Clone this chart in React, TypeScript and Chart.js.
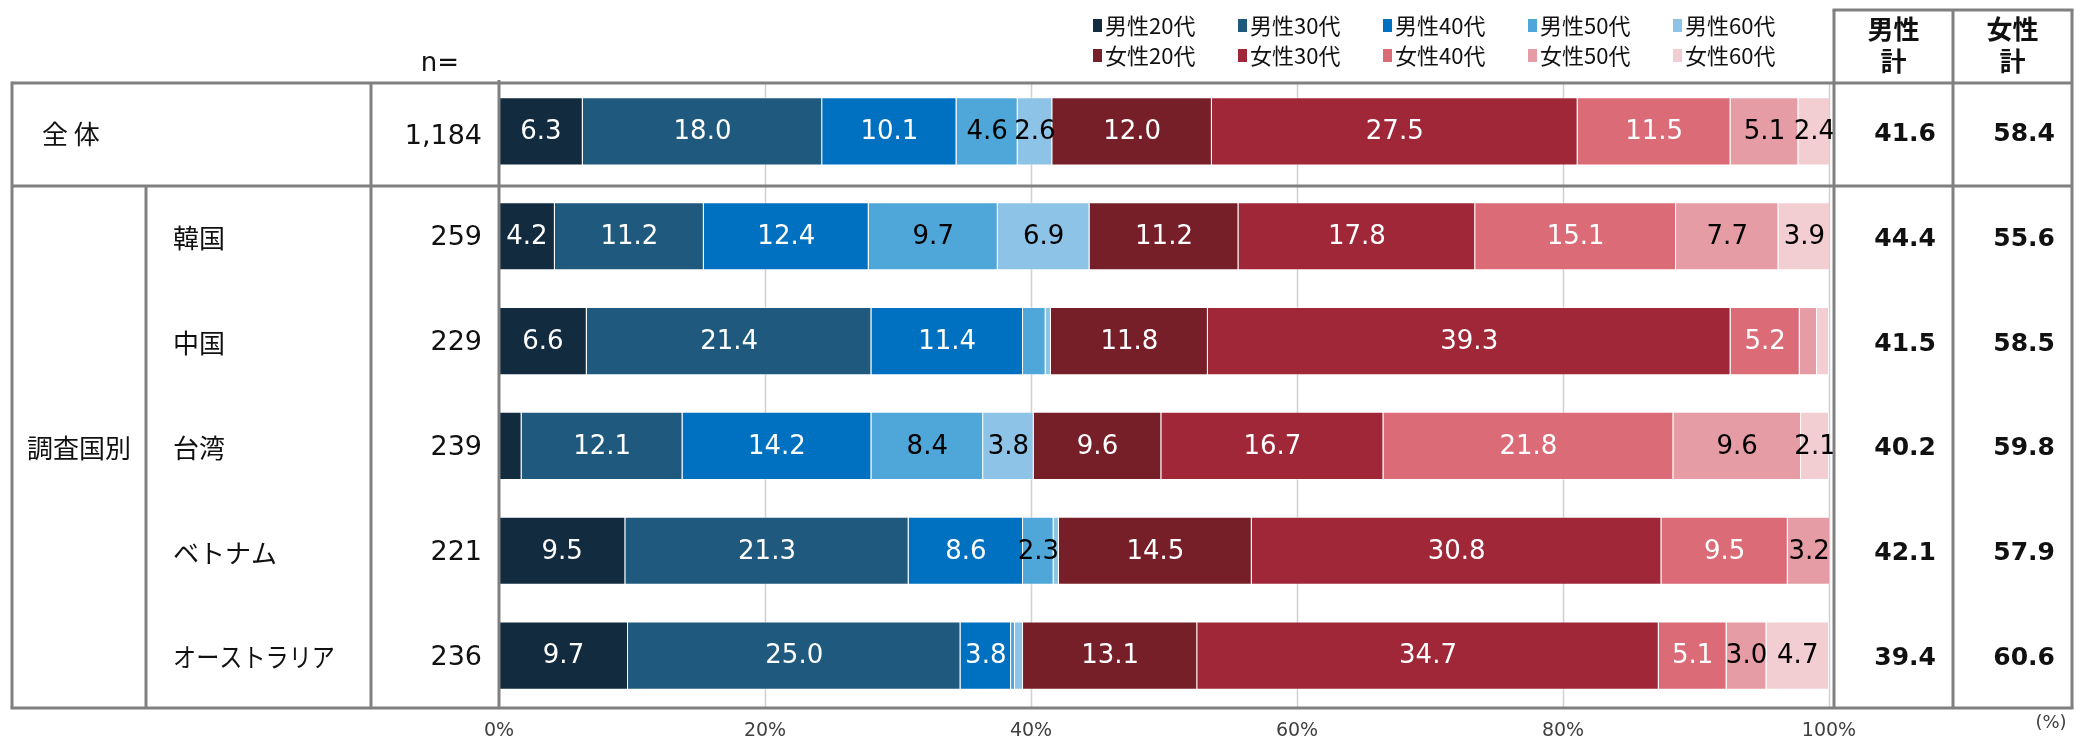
import { useEffect, useRef } from "react";
import { Chart, registerables } from "chart.js";

Chart.register(...registerables);

// ---------- data ----------
const rowLabels = ["全 体", "韓国", "中国", "台湾", "ベトナム", "オーストラリア"];
const sampleSizes = ["1,184", "259", "229", "239", "221", "236"];
const groupLabel = "調査国別";
const seriesNames = [
  "男性20代", "男性30代", "男性40代", "男性50代", "男性60代",
  "女性20代", "女性30代", "女性40代", "女性50代", "女性60代",
];
const male20 = [6.3, 4.2, 6.6, 1.7, 9.5, 9.7];
const male30 = [18.0, 11.2, 21.4, 12.1, 21.3, 25.0];
const male40 = [10.1, 12.4, 11.4, 14.2, 8.6, 3.8];
const male50 = [4.6, 9.7, 1.7, 8.4, 2.3, 0.3];
const male60 = [2.6, 6.9, 0.4, 3.8, 0.4, 0.6];
const female20 = [12.0, 11.2, 11.8, 9.6, 14.5, 13.1];
const female30 = [27.5, 17.8, 39.3, 16.7, 30.8, 34.7];
const female40 = [11.5, 15.1, 5.2, 21.8, 9.5, 5.1];
const female50 = [5.1, 7.7, 1.3, 9.6, 3.2, 3.0];
const female60 = [2.4, 3.9, 0.9, 2.1, 0.0, 4.7];
const maleTotals = ["41.6", "44.4", "41.5", "40.2", "42.1", "39.4"];
const femaleTotals = ["58.4", "55.6", "58.5", "59.8", "57.9", "60.6"];
const xTickValues = [0, 20, 40, 60, 80, 100];
const totalHeaders = [["男性", "計"], ["女性", "計"]];

const seriesValues = [male20, male30, male40, male50, male60, female20, female30, female40, female50, female60];
const seriesColors = [
  "#122B3F", "#1F5A7E", "#0070C0", "#4FA6D9", "#8DC3E6",
  "#771F29", "#A02737", "#DA6B77", "#E69CA5", "#F2CDD2",
];
const labelColors = ["#fff", "#fff", "#fff", "#000", "#000", "#fff", "#fff", "#fff", "#000", "#000"];

const FONT_NUM = "'DejaVu Sans', 'Noto Sans', sans-serif";
const FONT_JP = "'Noto Sans CJK JP', 'Noto Sans', sans-serif";
const LINE = "#808080";

const tablePlugin = {
  id: "tableDecor",
  beforeDraw(chart: any) {
    const { ctx, width, height } = chart;
    ctx.save();
    ctx.fillStyle = "#fff";
    ctx.fillRect(0, 0, width, height);
    const xs = chart.scales.x;
    ctx.strokeStyle = "#D0D0D0";
    ctx.lineWidth = 1.5;
    xTickValues.forEach((v) => {
      if (v === 0) return;
      const px = Math.round(xs.getPixelForValue(v)) + 0.5;
      ctx.beginPath();
      ctx.moveTo(px, 83);
      ctx.lineTo(px, chart.chartArea.bottom);
      ctx.stroke();
    });
    ctx.restore();
  },
  afterDatasetsDraw(chart: any) {
    const { ctx } = chart;
    ctx.save();
    ctx.textAlign = "center";
    ctx.textBaseline = "middle";
    ctx.font = `26px ${FONT_NUM}`;
    chart.data.datasets.forEach((ds: any, di: number) => {
      const meta = chart.getDatasetMeta(di);
      meta.data.forEach((el: any, i: number) => {
        const v = ds.data[i];
        if (v < 2) return;
        const p = el.getProps(["x", "base", "y"], true);
        ctx.fillStyle = labelColors[di];
        ctx.fillText(v.toFixed(1), (p.x + p.base) / 2, p.y + 1);
      });
    });
    ctx.restore();
  },
  afterDraw(chart: any) {
    const { ctx } = chart;
    const ys = chart.scales.y;
    const xs = chart.scales.x;
    const left = 12, c1 = 146, c2 = 371, axisX = Math.round(xs.getPixelForValue(0));
    const r0 = 1834, r1 = 1953, r2 = 2072;
    const top = 83, mid = 186, bottom = Math.round(chart.chartArea.bottom);
    ctx.save();
    ctx.strokeStyle = LINE;
    ctx.lineWidth = 3;
    const line = (x1: number, y1: number, x2: number, y2: number) => {
      ctx.beginPath();
      ctx.moveTo(x1, y1);
      ctx.lineTo(x2, y2);
      ctx.stroke();
    };
    line(left, top, r2, top);
    line(left, mid, r2, mid);
    line(left - 1.5, bottom, r2 + 1.5, bottom);
    line(left, top - 1.5, left, bottom);
    line(c1, mid, c1, bottom);
    line(c2, top, c2, bottom);
    line(axisX, 80, axisX, bottom);
    line(r0 - 1.5, 10, r2 + 1.5, 10);
    line(r0, 10, r0, bottom);
    line(r1, 10, r1, bottom);
    line(r2, 10, r2, bottom);

    ctx.fillStyle = "#111";
    ctx.textBaseline = "middle";
    rowLabels.forEach((lab, i) => {
      const y = ys.getPixelForValue(i);
      ctx.font = `26px ${FONT_JP}`;
      ctx.textAlign = "left";
      if (i === 0) ctx.fillText(lab, 42, (top + mid) / 2);
      else ctx.fillText(lab, 173, y + 2, 162);
      ctx.font = `27px ${FONT_NUM}`;
      ctx.textAlign = "right";
      ctx.fillText(sampleSizes[i], 482, i === 0 ? (top + mid) / 2 + 2 : y + 2);
      ctx.font = `bold 25px ${FONT_NUM}`;
      ctx.fillText(maleTotals[i], r1 - 17, y + 3);
      ctx.fillText(femaleTotals[i], r2 - 17, y + 3);
    });
    ctx.font = `26px ${FONT_JP}`;
    ctx.textAlign = "left";
    ctx.fillText(groupLabel, 27, ys.getPixelForValue(3) + 2);
    ctx.font = `26px ${FONT_NUM}`;
    ctx.textAlign = "center";
    ctx.fillText("n=", 440, 64);

    ctx.font = `bold 26px ${FONT_JP}`;
    totalHeaders.forEach((h, i) => {
      const cx = i === 0 ? (r0 + r1) / 2 : (r1 + r2) / 2;
      ctx.fillText(h[0], cx, 29);
      ctx.fillText(h[1], cx, 61);
    });

    ctx.font = `22px ${FONT_JP}`;
    ctx.textAlign = "left";
    seriesNames.forEach((name, i) => {
      const col = i % 5, row = Math.floor(i / 5);
      const x = 1093 + col * 145;
      const y = 25 + row * 30;
      ctx.fillStyle = seriesColors[i];
      ctx.fillRect(x, y - 6, 9, 13);
      ctx.fillStyle = "#111";
      ctx.fillText(name, x + 12, y + 1);
    });

    ctx.font = `18px ${FONT_NUM}`;
    ctx.fillStyle = "#404040";
    ctx.textAlign = "center";
    ctx.fillText("(%)", 2051, 723);
    ctx.restore();
  },
};

export default function App() {
  const ref = useRef<HTMLCanvasElement | null>(null);
  useEffect(() => {
    document.body.style.margin = "0";
    const canvas = ref.current;
    if (!canvas) return;
    const chart = new Chart(canvas, {
      type: "bar",
      data: {
        labels: rowLabels,
        datasets: seriesNames.map((name, i) => ({
          label: name,
          data: seriesValues[i],
          backgroundColor: seriesColors[i],
          borderColor: "rgba(255,255,255,0.4)",
          borderWidth: 1,
          barPercentage: 0.65,
          categoryPercentage: 1,
        })),
      },
      options: {
        indexAxis: "y",
        animation: false,
        responsive: false,
        devicePixelRatio: 1,
        layout: { padding: { left: 499, right: 263, top: 79, bottom: 0 } },
        plugins: { legend: { display: false }, tooltip: { enabled: false } },
        scales: {
          x: {
            stacked: true,
            min: 0,
            max: 100,
            grid: { display: false, drawTicks: false },
            border: { display: false },
            afterFit: (scale: any) => {
              scale.height = 34;
            },
            ticks: {
              stepSize: 20,
              padding: 14,
              color: "#404040",
              font: { size: 19, family: FONT_NUM, lineHeight: 1 },
              callback: (v: any) => `${v}%`,
            },
          },
          y: { stacked: true, display: false },
        },
      },
      plugins: [tablePlugin],
    } as any);
    return () => chart.destroy();
  }, []);
  return <canvas ref={ref} width={2092} height={742} style={{ display: "block" }} />;
}
